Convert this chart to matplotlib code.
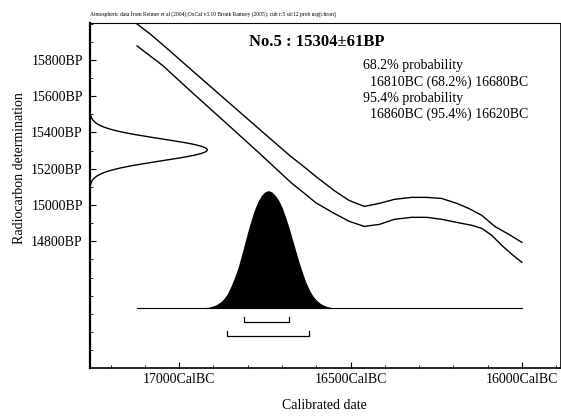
import matplotlib
matplotlib.use("Agg")
import matplotlib.pyplot as plt
import matplotlib.transforms as mtransforms
import numpy as np

plt.rcParams['font.family'] = ['Liberation Serif', 'DejaVu Serif']

# measurement
c14_mean = 15304
c14_sd = 61

# calibration curve envelope (cal BC, BP)
upper_bc = [17123, 17085, 17047, 16968, 16871, 16771, 16674, 16645, 16601, 16548, 16504,
            16460, 16416, 16372, 16322, 16278, 16234, 16190, 16155, 16117, 16079, 16038, 16000]
upper_bp = [15998, 15943, 15882, 15751, 15591, 15426, 15267, 15225, 15157, 15080, 15025,
            14992, 15009, 15031, 15042, 15042, 15036, 15009, 14981, 14943, 14882, 14838, 14794]
lower_bc = [17123, 17047, 16968, 16871, 16771, 16674, 16645, 16601, 16548, 16504, 16460,
            16416, 16372, 16322, 16278, 16234, 16190, 16146, 16117, 16088, 16059, 16029, 16000]
lower_bp = [15877, 15767, 15630, 15465, 15294, 15124, 15080, 15012, 14954, 14910, 14882,
            14893, 14921, 14932, 14932, 14921, 14904, 14888, 14871, 14833, 14778, 14728, 14684]

# calibrated probability (relative)
cal_bc = [16960, 16950, 16940, 16930, 16920, 16910, 16900, 16890, 16880, 16870, 16860,
          16850, 16840, 16830, 16820, 16810, 16800, 16790, 16780, 16770, 16760, 16750,
          16740, 16730, 16720, 16710, 16700, 16690, 16680, 16670, 16660, 16650, 16640,
          16630, 16620, 16610, 16600, 16590, 16580, 16570, 16560, 16550, 16540]
cal_prob = [0.0, 0.001, 0.002, 0.004, 0.007, 0.012, 0.02, 0.033, 0.052, 0.08, 0.12,
            0.18, 0.25, 0.33, 0.43, 0.54, 0.65, 0.75, 0.84, 0.91, 0.96, 0.99,
            1.0, 0.99, 0.96, 0.92, 0.86, 0.78, 0.69, 0.59, 0.49, 0.39, 0.30,
            0.22, 0.155, 0.105, 0.07, 0.045, 0.028, 0.016, 0.009, 0.004, 0.0]

range68 = (16810, 16680)
range95 = (16860, 16620)

fig = plt.figure(figsize=(5.61, 4.19), dpi=100)
ax = fig.add_axes([0.160, 0.122, 0.838, 0.823])
ax.set_xlim(17261, 15889)
ax.set_ylim(14102, 16003)

# calibration curve
ax.plot(upper_bc, upper_bp, color='black', lw=1.0)
ax.plot(lower_bc, lower_bp, color='black', lw=1.0)

# radiocarbon distribution on the y axis
yy = np.linspace(c14_mean - 4 * c14_sd, c14_mean + 4 * c14_sd, 200)
pdf = np.exp(-0.5 * ((yy - c14_mean) / c14_sd) ** 2)
ytrans = mtransforms.blended_transform_factory(ax.transAxes, ax.transData)
ax.plot(pdf * 0.25, yy, color='black', lw=1.0, transform=ytrans)

# calibrated distribution
xtrans = ax.get_xaxis_transform()
base = 0.173
ax.fill_between(cal_bc, base, base + np.array(cal_prob) * 0.341, color='black',
                lw=0, transform=xtrans)
ax.plot([17123, 16000], [base, base], color='black', lw=0.8, transform=xtrans)

# ranges
for (a, b), yb in [(range68, 0.133), (range95, 0.092)]:
    ax.plot([a, a, b, b], [yb + 0.015, yb, yb, yb + 0.015], color='black', lw=0.9,
            transform=xtrans)

# ticks
ax.set_xticks([17000, 16500, 16000])
ax.set_xticklabels(['17000CalBC', '16500CalBC', '16000CalBC'])
ax.set_xticks(np.arange(17200, 15899, -100), minor=True)
ax.set_yticks([14800, 15000, 15200, 15400, 15600, 15800])
ax.set_yticklabels(['14800BP', '15000BP', '15200BP', '15400BP', '15600BP', '15800BP'])
ax.set_yticks(np.arange(14200, 16001, 100), minor=True)
ax.tick_params(direction='in', labelsize=10, length=4, width=0.8, pad=5)
ax.tick_params(axis='x', pad=4)
ax.tick_params(which='minor', direction='in', length=2, width=0.6)
ax.spines['left'].set_linewidth(1.6)
ax.spines['bottom'].set_linewidth(1.2)
ax.spines['top'].set_linewidth(0.8)
ax.spines['right'].set_linewidth(0.6)

ax.set_xlabel('Calibrated date', fontsize=10, labelpad=9)
ax.set_ylabel('Radiocarbon determination', fontsize=10)
ax.yaxis.set_label_coords(-0.135, 0.58)

ax.text(0.338, 0.945, 'No.5 : 15304\u00b161BP', transform=ax.transAxes,
        fontsize=12, fontweight='bold', va='center')
lines = ['68.2% probability', '  16810BC (68.2%) 16680BC',
         '95.4% probability', '  16860BC (95.4%) 16620BC']
for i, s in enumerate(lines):
    ax.text(0.581, 0.876 - i * 0.047, s, transform=ax.transAxes, fontsize=10,
            va='center')

fig.text(0.160, 0.965,
         'Atmospheric data from Reimer et al (2004);OxCal v3.10 Bronk Ramsey (2005); '
         'cub r:5 sd:12 prob usp[chron]', fontsize=4.0, va='center')

fig.savefig('out.png', dpi=100)
